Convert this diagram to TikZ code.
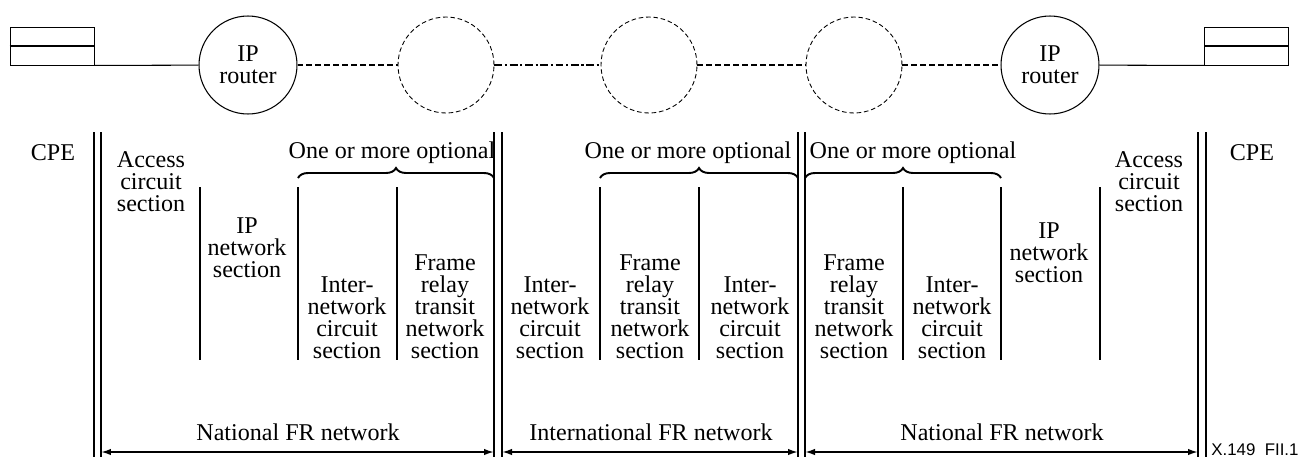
\documentclass[tikz,border=0pt]{standalone}
\usepackage{fontspec}
\setmainfont{Liberation Serif}
\setsansfont{Liberation Sans}
\usetikzlibrary{arrows.meta,decorations.pathreplacing}

\newcommand{\secfont}{\fontsize{13.7}{12.5}\selectfont}

\tikzset{
	router/.style={circle, draw, line width=0.6pt, minimum size=1.96cm, inner sep=0pt, align=center, font=\secfont},
	ghost/.style={circle, draw, line width=0.5pt, dash pattern=on 2.6pt off 1.6pt, minimum size=1.92cm, inner sep=0pt},
	term/.style={draw, line width=0.5pt, minimum width=1.68cm, minimum height=0.76cm, inner sep=0pt},
	sect/.style={align=center, anchor=south, inner sep=0pt, font=\secfont},
	lbl/.style={anchor=base, inner sep=0pt, font=\secfont},
	brk/.style={line width=1.1pt, decorate, decoration={brace, amplitude=0.2cm}},
	span/.style={line width=1pt, {Latex[length=0.2cm,width=0.13cm]}-{Latex[length=0.2cm,width=0.13cm]}},
}

\begin{document}
\begin{tikzpicture}[x=0.02cm, y=-0.02cm]
	\useasboundingbox (0,0) rectangle (1298,457);

	% top row: terminals, routers, clouds
	\node[term] (tL) at (52,46) {};
	\node[term] (tR) at (1246.5,46) {};
	\draw[line width=1.1pt] (tL.west) -- (tL.east);
	\draw[line width=1.1pt] (tR.west) -- (tR.east);
	\node[router] (r1) at (248,65) {IP\\router};
	\node[ghost] (g1) at (446,65) {};
	\node[ghost] (g2) at (649,65) {};
	\node[ghost] (g3) at (854,65) {};
	\node[router] (r2) at (1050,65) {IP\\router};

	\draw[line width=0.6pt] (tL.south east) -- (r1);
	\draw[line width=0.6pt] (r2) -- (tR.south west);
	\draw[line width=0.9pt, dash pattern=on 3.4pt off 1.7pt] (r1) -- (g1);
	\draw[line width=0.9pt, dash pattern=on 4.5pt off 1.5pt on 1.2pt off 1.5pt] (g1) -- (g2);
	\draw[line width=0.9pt, dash pattern=on 3.4pt off 1.7pt] (g2) -- (g3);
	\draw[line width=0.9pt, dash pattern=on 3.4pt off 1.7pt] (g3) -- (r2);

	% double borders
	\foreach \x in {94,101,494,502,798,805,1198,1206}
		\draw[line width=1.1pt] (\x,132) -- (\x,457);
	% section borders
	\foreach \x in {200,298,397,600,699,903,1001,1100}
		\draw[line width=1.1pt] (\x,187) -- (\x,360);

	% braces
	\draw[brk] (298,178) -- (494,178);
	\draw[brk] (600,178) -- (798,178);
	\draw[brk] (805,178) -- (1001,178);
	\node[lbl] (opt1) at (392,158) {One or more optional};
	\node[lbl] (opt2) at (688,158) {One or more optional};
	\node[lbl] (opt3) at (913,158) {One or more optional};

	% sections
	\node[lbl] (cpeL) at (53,160) {CPE};
	\node[lbl] (cpeR) at (1252,160) {CPE};
	\node[sect] (accL) at (151,212) {Access\\circuit\\section};
	\node[sect] (ipL) at (247,278) {IP\\network\\section};
	\node[sect] (inwA) at (347,359) {Inter-\\network\\circuit\\section};
	\node[sect] (frA) at (445,359) {Frame\\relay\\transit\\network\\section};
	\node[sect] (inwB) at (550,359) {Inter-\\network\\circuit\\section};
	\node[sect] (frB) at (650,359) {Frame\\relay\\transit\\network\\section};
	\node[sect] (inwC) at (750,359) {Inter-\\network\\circuit\\section};
	\node[sect] (frC) at (854,359) {Frame\\relay\\transit\\network\\section};
	\node[sect] (inwD) at (952,359) {Inter-\\network\\circuit\\section};
	\node[sect] (ipR) at (1049,283) {IP\\network\\section};
	\node[sect] (accR) at (1149,212) {Access\\circuit\\section};

	% network spans
	\coordinate (a0) at (101,452);
	\coordinate (a1) at (494,452);
	\coordinate (b0) at (502,452);
	\coordinate (b1) at (798,452);
	\coordinate (c0) at (805,452);
	\coordinate (c1) at (1198,452);
	\draw[span] (a0) -- (a1);
	\draw[span] (b0) -- (b1);
	\draw[span] (c0) -- (c1);
	\node[lbl] (natL) at (298,440) {National FR network};
	\node[lbl] (intl) at (651,440) {International FR network};
	\node[lbl] (natR) at (1002,440) {National FR network};

	\node[anchor=base west, inner sep=0pt, font=\sffamily\fontsize{9.6}{9.6}\selectfont] (fig) at (1211,455) {X.149\ \ FII.1};
\end{tikzpicture}
\end{document}
